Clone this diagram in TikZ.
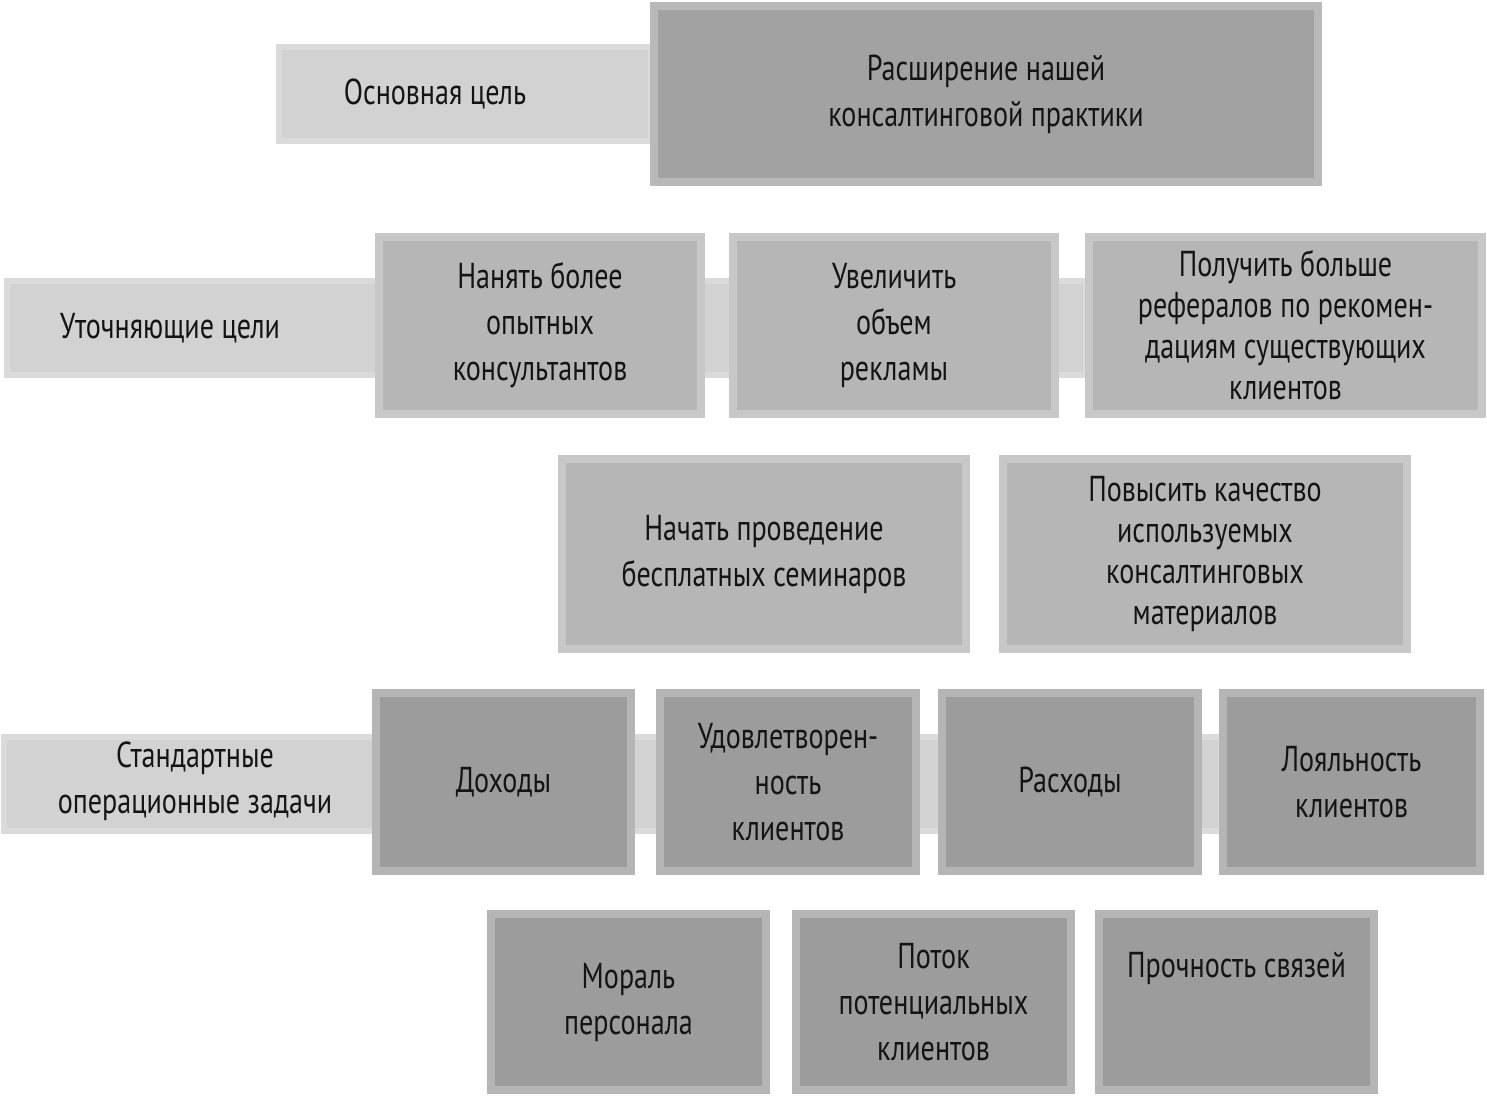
\documentclass[tikz,border=0pt]{standalone}
\usepackage{fontspec}
\setmainfont{PT Sans}[FakeStretch=0.78]
\definecolor{barc}{HTML}{D2D2D2}
\definecolor{topc}{HTML}{A2A2A2}
\definecolor{midc}{HTML}{B6B6B6}
\definecolor{lowc}{HTML}{9C9C9C}
\tikzset{
  bx/.style={draw=#1!75!white, fill=#1, line width=4pt, inner sep=0pt, outer sep=0pt, align=center,
    font=\fontsize{18}{23}\selectfont, text=black!92,
    append after command={\pgfextra{\draw[gray!70!black, line width=0.6pt] (\tikzlastnode.north west) rectangle (\tikzlastnode.south east);}}},
  bar/.style={draw=barc!80!white, fill=barc, line width=3pt, inner sep=0pt, outer sep=0pt, align=center,
    font=\fontsize{18}{23}\selectfont, text=black!92},
}
\newcommand{\bxn}[7]{\node[#6, minimum width={(#4-#2)*0.5pt-4pt}, minimum height={(#5-#3)*0.5pt-4pt}] (#1) at ({(#2+#4)/2},{(#3+#5)/2}) {#7};}
\begin{document}
\begin{tikzpicture}[x=0.5pt,y=-0.5pt]
\useasboundingbox (0,0) rectangle (1487,1096);
\fill[white] (0,0) rectangle (1487,1096);
% strips
\bxn{s2}{3}{277}{1090}{379}{bar}{}
\bxn{s4}{0}{733}{1225}{835}{bar}{}
\bxn{goalbar}{275}{43}{655}{145}{bar}{\hspace*{-30pt}Основная цель}
\node[font=\fontsize{18}{23}\selectfont, text=black!92] (lbl2) at (170,328) {Уточняющие цели};
\node[font=\fontsize{18}{23}\selectfont, text=black!92, align=center] (lbl4) at (195,781) {Стандартные\\операционные задачи};
\bxn{main}{650}{2}{1322}{186}{bx=topc}{Расширение нашей\\консалтинговой практики}
\bxn{a1}{375}{233}{705}{418}{bx=midc}{Нанять более\\опытных\\консультантов}
\bxn{a2}{729}{233}{1059}{418}{bx=midc}{Увеличить\\объем\\рекламы}
\node[bx=midc, minimum width={401*0.5pt-4pt}, minimum height={185*0.5pt-4pt}, font=\fontsize{18}{20.5}\selectfont] (a3) at (1285.5,325.5) {Получить больше\\рефералов по рекомен-\\дациям существующих\\клиентов};
\bxn{b1}{558}{455}{970}{653}{bx=midc}{Начать проведение\\бесплатных семинаров}
\node[bx=midc, minimum width={412*0.5pt-4pt}, minimum height={198*0.5pt-4pt}, font=\fontsize{18}{20.5}\selectfont] (b2) at (1205,554) {Повысить качество\\используемых\\консалтинговых\\материалов};
\bxn{c1}{372}{689}{635}{875}{bx=lowc}{Доходы}
\bxn{c2}{656}{689}{920}{875}{bx=lowc}{Удовлетворен-\\ность\\клиентов}
\bxn{c3}{938}{689}{1202}{875}{bx=lowc}{Расходы}
\bxn{c4}{1219}{689}{1484}{875}{bx=lowc}{Лояльность\\клиентов}
\bxn{d1}{487}{910}{770}{1094}{bx=lowc}{Мораль\\персонала}
\bxn{d2}{792}{910}{1075}{1094}{bx=lowc}{Поток\\потенциальных\\клиентов}
\bxn{d3}{1095}{910}{1378}{1094}{bx=lowc}{Прочность связей\\[14pt]}
\end{tikzpicture}
\end{document}
